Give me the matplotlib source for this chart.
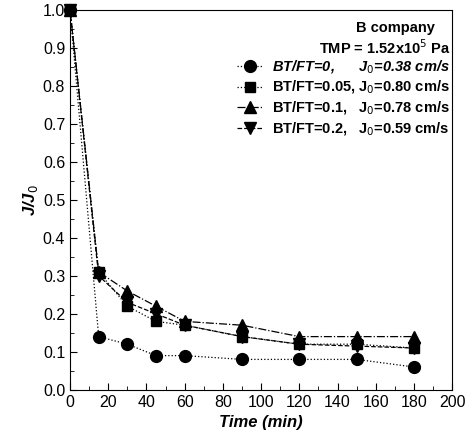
import matplotlib
matplotlib.use("Agg")
import matplotlib.pyplot as plt
from matplotlib.ticker import MultipleLocator

plt.rcParams['font.family'] = ['Liberation Sans', 'DejaVu Sans']

time = [0, 15, 30, 45, 60, 90, 120, 150, 180]
s0 = [1.0, 0.14, 0.12, 0.09, 0.09, 0.08, 0.08, 0.08, 0.06]
s005 = [1.0, 0.31, 0.22, 0.18, 0.17, 0.14, 0.12, 0.12, 0.11]
s01 = [1.0, 0.31, 0.26, 0.22, 0.18, 0.17, 0.14, 0.14, 0.14]
s02 = [1.0, 0.30, 0.23, 0.20, 0.17, 0.14, 0.12, 0.115, 0.11]
labels = ["BT/FT=0,      J$_0$=0.38 cm/s",
          "BT/FT=0.05, J$_0$=0.80 cm/s",
          "BT/FT=0.1,   J$_0$=0.78 cm/s",
          "BT/FT=0.2,   J$_0$=0.59 cm/s"]

fig = plt.figure(figsize=(4.73, 4.46), dpi=100)
ax = fig.add_axes([0.148, 0.126, 0.808, 0.852])

h1, = ax.plot(time, s005, color='black', linestyle=':', linewidth=0.9, marker='s', markersize=7, label=labels[1], clip_on=False)
h2, = ax.plot(time, s01, color='black', linestyle='-.', linewidth=0.9, marker='^', markersize=8, label=labels[2], clip_on=False)
h3, = ax.plot(time, s02, color='black', linestyle='--', linewidth=0.9, marker='v', markersize=8, label=labels[3], clip_on=False)
h0, = ax.plot(time, s0, color='black', linestyle=':', linewidth=0.9, marker='o', markersize=8.5, label=labels[0], clip_on=False, zorder=5)

ax.set_xlim(0, 200)
ax.set_ylim(0, 1.0)
ax.xaxis.set_major_locator(MultipleLocator(20))
ax.xaxis.set_minor_locator(MultipleLocator(10))
ax.yaxis.set_major_locator(MultipleLocator(0.1))
ax.yaxis.set_minor_locator(MultipleLocator(0.05))
ax.yaxis.set_major_formatter(plt.FormatStrFormatter('%.1f'))
ax.tick_params(which='both', direction='in', top=False, right=False, labelsize=11.5)
ax.tick_params(which='major', length=5)
ax.tick_params(which='minor', length=3)
for sp in ax.spines.values():
    sp.set_linewidth(0.8)

ax.set_xlabel("Time (min)", fontsize=12, fontweight='bold', fontstyle='italic')
ax.set_ylabel("J/J$_0$", fontsize=12, fontweight='bold', fontstyle='italic', labelpad=2)

ax.text(0.955, 0.953, "B company", transform=ax.transAxes, ha='right', va='center', fontsize=10.5, fontweight='bold')
ax.text(0.995, 0.9, "TMP = 1.52x10$^5$ Pa", transform=ax.transAxes, ha='right', va='center', fontsize=10.5, fontweight='bold')

leg = ax.legend(handles=[h0, h1, h2, h3], loc='upper right', bbox_to_anchor=(1.0, 0.88), frameon=False,
                prop={'weight': 'bold', 'size': 10.5}, handlelength=1.8, handletextpad=0.6,
                labelspacing=0.22, borderaxespad=0.0, borderpad=0.2)
leg.get_texts()[0].set_fontstyle('italic')

fig.savefig("out.png", dpi=100)
